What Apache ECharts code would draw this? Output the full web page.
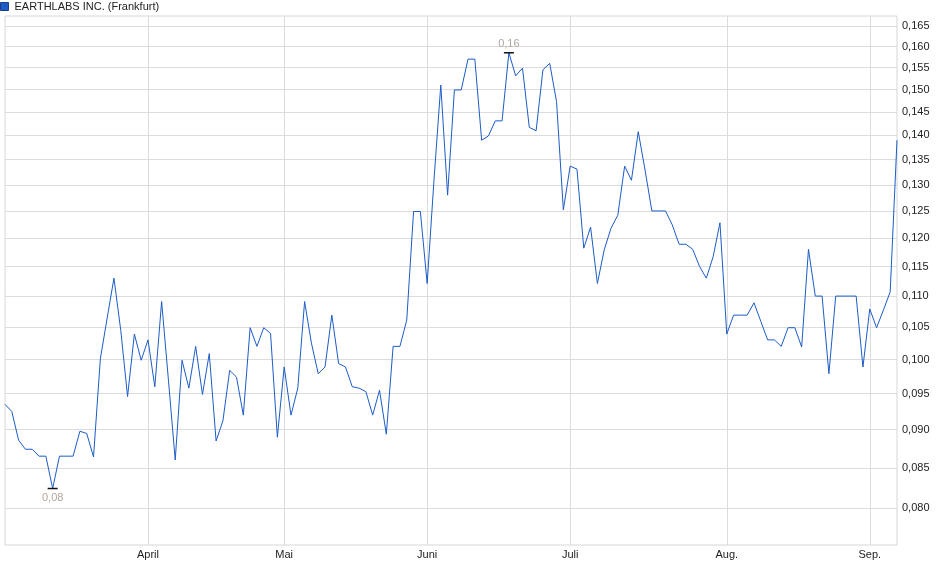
<!DOCTYPE html>
<html>
<head>
<meta charset="utf-8">
<script src="https://cdn.jsdelivr.net/npm/echarts@6/dist/echarts.min.js"></script>
<style>
html,body{margin:0;padding:0;background:#fff;}
#chart{width:940px;height:579px;}
</style>
</head>
<body>
<div id="chart"></div>
<script>
// Series name
var seriesName = 'EARTHLABS INC. (Frankfurt)';
// Month names and number of trading-day points in each month
var monthNames = ['März', 'April', 'Mai', 'Juni', 'Juli', 'Aug.', 'Sep.'];
var monthCounts = [21, 20, 21, 21, 23, 21, 5];
// Price values (EUR), one per trading day
var prices = [
  0.0935, 0.0925, 0.0886, 0.0874, 0.0874, 0.0865, 0.0865, 0.0824, 0.0865, 0.0865,
  0.0865, 0.0898, 0.0895, 0.0864, 0.1001, 0.1064, 0.1130, 0.1045, 0.0946, 0.1039,
  0.0999, 0.1030, 0.0960, 0.1091, 0.0970, 0.0860, 0.0999, 0.0958, 0.1020, 0.0949,
  0.1009, 0.0885, 0.0912, 0.0984, 0.0974, 0.0920, 0.1049, 0.1020, 0.1049, 0.1040,
  0.0890, 0.0989, 0.0920, 0.0958, 0.1091, 0.1025, 0.0979, 0.0989, 0.1069, 0.0994,
  0.0989, 0.0960, 0.0958, 0.0953, 0.0920, 0.0955, 0.0894, 0.1020, 0.1020, 0.1061,
  0.1249, 0.1249, 0.1121, 0.1309, 0.1510, 0.1280, 0.1499, 0.1499, 0.1570, 0.1570,
  0.1390, 0.1399, 0.1431, 0.1431, 0.1585, 0.1531, 0.1549, 0.1417, 0.1410, 0.1545,
  0.1560, 0.1473, 0.1252, 0.1337, 0.1331, 0.1182, 0.1220, 0.1121, 0.1179, 0.1218,
  0.1242, 0.1337, 0.1309, 0.1408, 0.1329, 0.1250, 0.1250, 0.1250, 0.1224, 0.1189,
  0.1189, 0.1180, 0.1150, 0.1130, 0.1167, 0.1228, 0.1039, 0.1069, 0.1069, 0.1069,
  0.1089, 0.1059, 0.1030, 0.1030, 0.1020, 0.1049, 0.1049, 0.1019, 0.1180, 0.1100,
  0.1100, 0.0979, 0.1100, 0.1100, 0.1100, 0.1100, 0.0989, 0.1079, 0.1049, 0.1077,
  0.1107, 0.1390
];
// Y tick values
var yTicks = [0.080, 0.085, 0.090, 0.095, 0.100, 0.105, 0.110, 0.115, 0.120,
              0.125, 0.130, 0.135, 0.140, 0.145, 0.150, 0.155, 0.160, 0.165];

// Build categories from month counts
var categories = [];
var monthStart = {};
for (var m = 0; m < monthNames.length; m++) {
  for (var d = 0; d < monthCounts[m]; d++) {
    if (d === 0 && m > 0) monthStart[categories.length] = true;
    categories.push(monthNames[m] + ' ' + (d + 1));
  }
}
function isMonthStart(idx) { return !!monthStart[idx]; }
function fmtComma(v, n) { return v.toFixed(n).replace('.', ','); }

var chart = echarts.init(document.getElementById('chart'), null, {renderer: 'canvas'});
chart.setOption({
  animation: false,
  backgroundColor: '#ffffff',
  textStyle: {fontFamily: 'Liberation Sans, Arial, sans-serif'},
  legend: {
    data: [seriesName],
    left: 0, top: 1, padding: 0,
    icon: 'rect', itemWidth: 8, itemHeight: 8, itemGap: 5,
    itemStyle: {borderColor: '#1b3f8a', borderWidth: 1},
    textStyle: {fontSize: 11, color: '#222', fontFamily: 'Liberation Sans, Arial, sans-serif', padding: [0, 0, 0, 1]}
  },
  grid: {
    left: 5, right: 43, top: 16, bottom: 34,
    show: true, borderColor: '#d6d6d6', borderWidth: 1,
    containLabel: false
  },
  xAxis: {
    type: 'category',
    data: categories,
    boundaryGap: false,
    axisLine: {show: false},
    axisTick: {show: false},
    axisLabel: {
      interval: function (idx) { return isMonthStart(idx); },
      formatter: function (v) { return v.split(' ')[0]; },
      fontSize: 11, color: '#222', margin: 4,
      fontFamily: 'Liberation Sans, Arial, sans-serif'
    },
    splitLine: {
      show: true,
      interval: function (idx) { return isMonthStart(idx); },
      lineStyle: {color: '#dcdcdc', width: 1}
    }
  },
  yAxis: {
    type: 'log',
    logBase: 10,
    position: 'right',
    min: 0.0757,
    max: 0.1675,
    axisLine: {show: false},
    axisTick: {show: false, customValues: yTicks},
    axisLabel: {
      customValues: yTicks,
      formatter: function (v) { return fmtComma(v, 3); },
      fontSize: 11, color: '#222', margin: 5,
      fontFamily: 'Liberation Sans, Arial, sans-serif'
    },
    splitLine: {show: true, lineStyle: {color: '#dcdcdc', width: 1}},
    minorTick: {show: false},
    minorSplitLine: {show: false}
  },
  series: [{
    name: seriesName,
    type: 'line',
    data: prices,
    showSymbol: false,
    symbol: 'none',
    lineStyle: {color: '#1c5cc6', width: 1},
    itemStyle: {color: '#1c5cc6'},
    markPoint: {
      symbol: 'rect',
      symbolSize: [10, 1.5],
      itemStyle: {color: '#111'},
      data: [
        {type: 'max', label: {position: 'top', distance: 3}},
        {type: 'min', label: {position: 'bottom', distance: 3}}
      ],
      label: {
        show: true,
        color: '#b0a69c',
        fontSize: 11,
        fontFamily: 'Liberation Sans, Arial, sans-serif',
        formatter: function (p) { return fmtComma(p.value, 2); }
      }
    }
  }]
});
</script>
</body>
</html>
